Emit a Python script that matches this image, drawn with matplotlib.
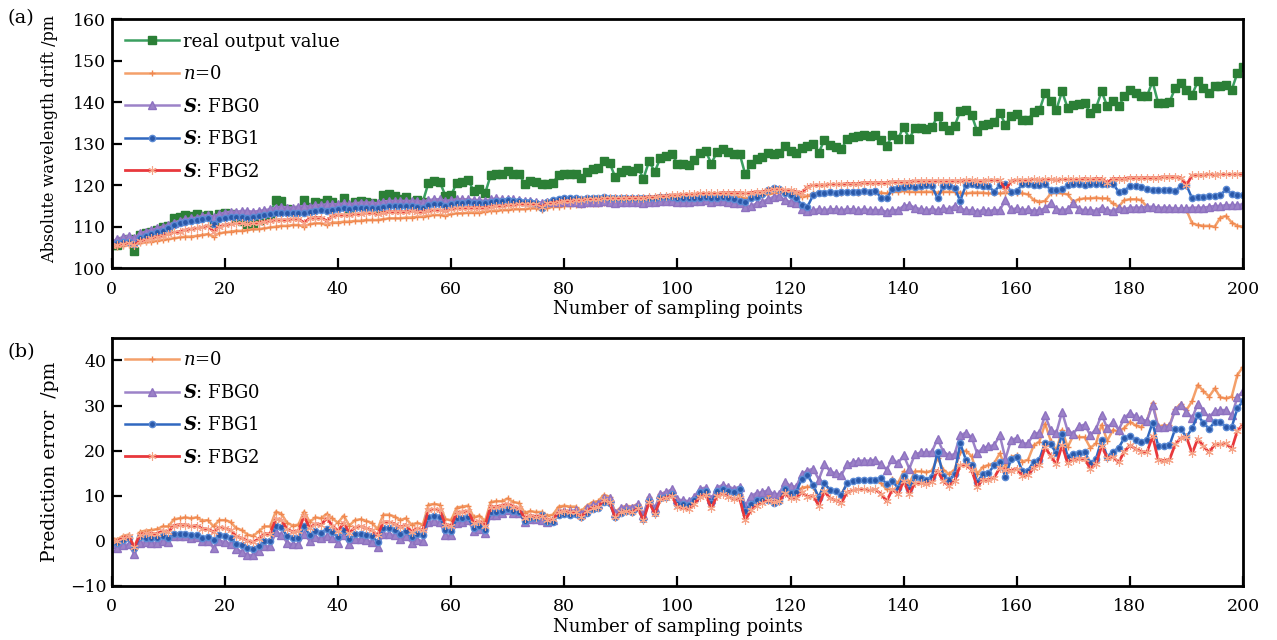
import matplotlib
matplotlib.use("Agg")
import matplotlib.pyplot as plt
import numpy as np

plt.rcParams["font.family"] = ["DejaVu Serif"]
plt.rcParams["mathtext.fontset"] = "dejavuserif"

# sampling points 0..200
sample_idx = np.arange(201)

real_output = [
    105.6, 105.5, 106.5, 107.0, 104.2, 108.0, 108.5, 108.8, 109.2, 110.0,
    110.2, 112.0, 112.4, 112.8, 112.6, 113.0, 112.5, 112.8, 110.8, 113.0,
    113.2, 113.0, 111.8, 111.4, 110.6, 110.5, 111.5, 112.8, 113.0, 116.5,
    116.2, 114.2, 113.8, 114.0, 116.5, 114.8, 116.0, 115.8, 116.4, 116.0,
    115.0, 116.8, 114.6, 116.0, 116.2, 116.0, 115.6, 114.2, 117.6, 117.8,
    117.4, 116.6, 117.2, 115.8, 116.4, 116.0, 120.6, 121.0, 120.8, 117.4,
    117.6, 120.6, 120.8, 121.2, 118.6, 119.0, 118.0, 122.4, 122.6, 122.8,
    123.4, 122.8, 122.6, 120.4, 121.0, 120.8, 120.4, 120.2, 120.6, 122.4,
    122.8, 122.6, 122.8, 121.8, 123.2, 124.0, 124.2, 125.8, 125.4, 122.0,
    123.2, 123.6, 123.4, 124.2, 121.6, 125.8, 123.2, 126.6, 127.0, 127.6,
    125.2, 125.0, 124.8, 126.0, 127.8, 128.2, 125.2, 128.0, 128.6, 128.0,
    127.4, 127.6, 122.6, 125.0, 126.2, 126.8, 127.8, 127.6, 127.8, 129.4,
    128.2, 127.8, 129.0, 129.4, 130.0, 127.8, 131.0, 129.6, 129.2, 128.6,
    131.2, 131.6, 131.8, 132.0, 131.8, 132.0, 131.0, 129.4, 132.2, 131.2,
    134.0, 131.2, 133.8, 133.8, 133.6, 134.0, 136.6, 134.2, 133.2, 134.2,
    137.8, 138.0, 137.0, 133.0, 134.6, 134.8, 135.2, 137.4, 134.6, 136.6,
    137.2, 135.6, 135.8, 137.6, 138.0, 142.2, 140.2, 138.2, 142.6, 138.6,
    139.4, 139.6, 139.8, 137.4, 138.6, 142.6, 139.0, 140.2, 139.0, 141.4,
    143.0, 142.2, 141.6, 141.4, 145.0, 139.8, 139.8, 140.0, 143.4, 144.6,
    143.0, 141.8, 145.0, 143.4, 142.2, 143.8, 144.0, 144.2, 143.0, 147.0,
    148.6,
]

pred_n0 = [
    105.0, 105.2, 105.4, 105.6, 105.6, 106.0, 106.2, 106.4, 106.6, 106.8,
    107.0, 107.2, 107.4, 107.6, 107.6, 107.8, 108.0, 108.2, 107.6, 108.4,
    108.6, 108.8, 109.0, 109.0, 109.2, 109.4, 109.4, 109.6, 109.8, 110.0,
    110.2, 110.2, 110.4, 110.4, 110.0, 110.6, 110.8, 110.8, 110.4, 111.0,
    111.0, 111.2, 111.2, 111.4, 111.4, 111.6, 111.6, 111.6, 111.8, 112.0,
    112.0, 112.0, 112.2, 112.2, 112.4, 112.4, 112.6, 112.8, 112.8, 112.6,
    113.0, 113.2, 113.2, 113.4, 113.4, 113.4, 113.6, 113.8, 113.8, 114.0,
    114.0, 114.2, 114.2, 114.2, 114.4, 114.4, 114.0, 114.6, 114.8, 114.8,
    115.0, 115.0, 115.2, 115.2, 115.4, 115.4, 115.4, 115.6, 115.6, 115.6,
    115.8, 115.8, 115.8, 116.0, 116.0, 116.0, 116.2, 116.2, 116.2, 116.4,
    116.4, 116.4, 116.6, 116.6, 116.8, 116.8, 116.8, 117.0, 117.0, 117.0,
    117.2, 117.2, 116.8, 117.2, 117.4, 117.6, 117.8, 118.0, 118.2, 118.0,
    118.0, 117.8, 117.2, 117.4, 118.0, 118.2, 118.2, 118.4, 118.2, 118.2,
    118.4, 118.4, 118.2, 118.4, 118.4, 118.4, 118.2, 118.0, 118.4, 118.4,
    118.6, 118.4, 118.4, 118.4, 118.4, 118.4, 118.2, 118.4, 118.4, 118.4,
    118.2, 118.0, 118.2, 118.2, 118.2, 118.0, 118.0, 118.0, 118.2, 118.0,
    118.2, 118.0, 117.8, 116.4, 116.0, 116.2, 118.0, 118.2, 118.0, 117.8,
    116.0, 116.6, 116.8, 116.8, 117.0, 116.8, 116.8, 115.6, 114.8, 116.4,
    116.6, 116.6, 116.4, 114.8, 114.4, 114.4, 114.2, 114.4, 114.2, 114.2,
    114.0, 110.8, 110.4, 110.2, 110.2, 110.0, 112.2, 112.6, 111.0, 110.2,
    110.0,
]

pred_fbg0 = [
    106.4, 107.0, 107.4, 107.8, 107.2, 108.4, 108.8, 109.2, 109.6, 110.0,
    110.4, 111.0, 111.4, 111.8, 112.0, 112.2, 112.6, 112.8, 112.4, 113.0,
    113.4, 113.6, 113.6, 113.8, 113.8, 113.6, 113.8, 114.0, 114.2, 114.6,
    114.8, 114.6, 114.6, 114.8, 115.0, 114.8, 115.2, 115.2, 115.4, 115.4,
    115.4, 115.6, 115.4, 115.6, 115.8, 115.8, 115.8, 115.6, 116.0, 116.2,
    116.2, 116.2, 116.2, 116.2, 116.2, 116.0, 116.4, 116.6, 116.6, 116.2,
    116.4, 116.6, 116.6, 116.6, 116.4, 116.4, 116.2, 116.6, 116.8, 116.6,
    116.6, 116.6, 116.4, 116.2, 116.2, 116.0, 115.8, 116.0, 116.0, 116.0,
    116.2, 116.0, 116.0, 115.8, 116.0, 116.0, 116.0, 116.2, 116.0, 115.8,
    116.0, 116.0, 116.0, 116.0, 115.8, 116.0, 116.0, 116.2, 116.2, 116.2,
    116.0, 116.0, 116.0, 116.2, 116.2, 116.4, 116.0, 116.2, 116.2, 116.0,
    115.8, 115.6, 114.8, 115.0, 115.6, 116.0, 116.6, 117.2, 117.4, 116.4,
    116.0, 115.8, 114.2, 113.8, 114.0, 114.2, 114.0, 114.2, 114.2, 114.0,
    114.2, 114.2, 114.0, 114.2, 114.0, 114.0, 114.0, 113.6, 114.0, 114.0,
    115.0, 115.2, 114.6, 114.2, 114.0, 114.2, 114.0, 114.4, 114.2, 115.0,
    114.4, 114.0, 114.0, 113.6, 114.0, 113.8, 114.0, 114.0, 116.4, 114.2,
    114.4, 114.0, 114.2, 113.8, 114.0, 114.4, 115.6, 114.2, 114.0, 114.2,
    115.6, 114.2, 114.0, 114.0, 113.8, 114.6, 114.0, 113.8, 114.4, 114.2,
    114.6, 114.6, 114.6, 114.8, 114.8, 114.6, 114.6, 114.6, 114.4, 114.4,
    114.4, 114.6, 114.6, 114.6, 114.8, 115.0, 115.0, 115.2, 115.2, 115.2,
    115.4,
]

pred_fbg1 = [
    105.8, 106.0, 106.2, 106.4, 105.8, 107.2, 107.8, 108.2, 108.6, 109.0,
    109.6, 110.4, 110.8, 111.2, 111.4, 111.6, 111.8, 112.0, 110.6, 111.8,
    112.2, 112.4, 112.4, 112.4, 112.2, 112.4, 112.6, 112.8, 113.0, 113.2,
    113.2, 113.2, 113.2, 113.4, 113.2, 113.6, 113.8, 114.0, 113.8, 114.0,
    114.2, 114.4, 114.2, 114.4, 114.6, 114.6, 114.6, 114.4, 114.8, 115.0,
    115.0, 115.0, 115.0, 115.0, 114.8, 114.6, 115.2, 115.4, 115.4, 115.0,
    115.4, 115.6, 115.8, 116.0, 115.8, 115.8, 115.6, 116.0, 116.2, 116.2,
    116.4, 116.2, 116.2, 116.0, 116.0, 115.8, 114.6, 116.0, 116.4, 116.6,
    116.8, 116.8, 116.8, 116.6, 117.0, 117.0, 117.0, 117.2, 117.0, 116.8,
    117.0, 117.0, 117.0, 117.0, 116.8, 117.0, 117.0, 117.2, 117.2, 117.2,
    117.0, 116.8, 116.8, 117.0, 117.0, 117.2, 116.8, 117.0, 117.2, 117.0,
    116.6, 116.2, 116.0, 116.8, 117.2, 117.8, 118.8, 119.2, 119.0, 118.0,
    117.6, 117.0, 115.2, 114.8, 117.6, 118.2, 118.2, 118.4, 118.2, 118.4,
    118.4, 118.4, 118.4, 118.6, 118.4, 118.6, 117.0, 116.8, 119.0, 119.4,
    119.6, 119.8, 119.6, 119.8, 120.0, 119.8, 116.8, 119.8, 119.8, 119.4,
    116.2, 120.0, 120.2, 120.0, 119.8, 119.8, 118.4, 120.0, 120.4, 118.4,
    118.6, 120.2, 120.2, 120.0, 120.0, 120.4, 118.8, 118.8, 119.0, 120.0,
    120.2, 120.2, 120.0, 120.2, 120.4, 120.2, 120.4, 120.4, 118.4, 118.6,
    119.8, 119.8, 119.6, 119.0, 118.8, 118.8, 118.8, 118.8, 118.6, 119.8,
    120.0, 116.8, 117.2, 117.2, 117.4, 117.4, 117.6, 119.0, 117.8, 117.6,
    117.6,
]

pred_fbg2 = [
    105.4, 105.6, 105.8, 106.0, 105.6, 106.6, 106.8, 107.2, 107.6, 107.8,
    108.2, 108.6, 108.8, 109.2, 109.4, 109.6, 109.8, 110.2, 108.8, 110.0,
    110.4, 110.6, 110.8, 110.8, 110.6, 110.8, 111.0, 111.2, 111.4, 111.6,
    111.6, 111.6, 111.8, 111.8, 111.0, 112.0, 112.2, 112.2, 111.4, 112.6,
    112.8, 112.8, 112.8, 113.0, 113.0, 113.2, 113.2, 113.0, 113.4, 113.6,
    113.6, 113.6, 113.6, 113.8, 113.6, 113.6, 113.8, 114.0, 114.0, 113.8,
    114.2, 114.4, 114.4, 114.6, 114.6, 114.6, 114.6, 114.8, 115.0, 115.0,
    115.2, 115.2, 115.4, 115.4, 115.4, 115.4, 114.8, 115.6, 115.8, 116.0,
    116.2, 116.2, 116.4, 116.4, 116.6, 116.6, 116.6, 116.8, 116.8, 116.8,
    116.8, 117.0, 117.0, 117.0, 117.0, 117.2, 117.2, 117.4, 117.4, 117.6,
    117.6, 117.8, 117.8, 117.8, 118.0, 118.0, 118.0, 118.0, 118.2, 118.2,
    118.2, 118.2, 118.0, 118.2, 118.4, 118.4, 118.8, 119.0, 119.0, 118.8,
    118.8, 118.4, 118.2, 119.6, 120.0, 120.0, 120.0, 120.2, 120.2, 120.2,
    120.4, 120.4, 120.4, 120.6, 120.6, 120.6, 120.6, 120.6, 120.8, 120.8,
    120.8, 120.8, 121.0, 121.0, 121.0, 121.0, 121.0, 121.0, 121.0, 121.0,
    121.0, 121.2, 121.2, 121.0, 121.0, 121.2, 121.2, 121.2, 118.8, 121.0,
    121.2, 121.2, 121.2, 121.4, 121.2, 121.4, 121.4, 121.2, 121.4, 121.4,
    121.4, 121.4, 121.6, 121.4, 121.6, 121.6, 120.6, 121.6, 121.6, 121.6,
    121.8, 121.8, 121.8, 121.8, 121.8, 121.8, 122.0, 122.0, 122.0, 121.8,
    120.0, 122.4, 122.4, 122.4, 122.6, 122.4, 122.6, 122.6, 122.6, 122.6,
    122.8,
]

real_arr = np.array(real_output)
err_n0 = real_arr - np.array(pred_n0)
err_fbg0 = real_arr - np.array(pred_fbg0)
err_fbg1 = real_arr - np.array(pred_fbg1)
err_fbg2 = real_arr - np.array(pred_fbg2)

lbl_real = "real output value"
lbl_n0 = r"$n$=0"
lbl_fbg0 = r"$\mathbfit{S}$: FBG0"
lbl_fbg1 = r"$\mathbfit{S}$: FBG1"
lbl_fbg2 = r"$\mathbfit{S}$: FBG2"

style_n0 = dict(color="#f4a06a", marker="+", ms=5, mew=1.0, lw=1.8, mec="#f08850")
style_fbg0 = dict(color="#9c82c8", marker="^", ms=6, lw=1.8, mec="#8e72c0")
style_fbg1 = dict(color="#3068c0", marker="o", ms=4.5, lw=1.8, mfc="#2a58a8", mec="#5b8ad4")
style_fbg2 = dict(color="#e8383c", marker=(6, 2, 0), ms=6, mew=0.8, lw=2.0, mec="#f6a488")
style_real = dict(color="#3a9f60", marker="s", ms=5.5, lw=1.8, mfc="#2b7f36", mec="#2b7f36")

fs = 13

fig = plt.figure(figsize=(12.77, 6.4), dpi=100)
ax1 = fig.add_axes([0.0875, 0.581, 0.8859, 0.389])
ax2 = fig.add_axes([0.0875, 0.0844, 0.8859, 0.3876])

ax1.plot(sample_idx, real_output, label=lbl_real, **style_real)
ax1.plot(sample_idx, pred_n0, label=lbl_n0, **style_n0)
ax1.plot(sample_idx, pred_fbg0, label=lbl_fbg0, **style_fbg0)
ax1.plot(sample_idx, pred_fbg1, label=lbl_fbg1, **style_fbg1)
ax1.plot(sample_idx, pred_fbg2, label=lbl_fbg2, **style_fbg2)

ax2.plot(sample_idx, err_n0, label=lbl_n0, **style_n0)
ax2.plot(sample_idx, err_fbg0, label=lbl_fbg0, **style_fbg0)
ax2.plot(sample_idx, err_fbg1, label=lbl_fbg1, **style_fbg1)
ax2.plot(sample_idx, err_fbg2, label=lbl_fbg2, **style_fbg2)

ax1.set_xlim(0, 200)
ax1.set_ylim(100, 160)
ax1.set_yticks(np.arange(100, 161, 10))
ax2.set_xlim(0, 200)
ax2.set_ylim(-10, 45)
ax2.set_yticks(np.arange(-10, 41, 10))

for ax in (ax1, ax2):
    ax.set_xticks(np.arange(0, 201, 20))
    ax.tick_params(direction="in", length=7, width=1.6, labelsize=12.5)
    ax.tick_params(axis="x", pad=9)
    ax.tick_params(axis="y", pad=4)
    for sp in ax.spines.values():
        sp.set_linewidth(2.0)
    ax.set_xlabel("Number of sampling points", fontsize=fs, labelpad=2)
    ax.legend(loc="upper left", frameon=False, fontsize=fs, handlelength=3.0,
              handletextpad=0.2, labelspacing=0.8, borderaxespad=0.35)

ax1.set_ylabel("Absolute wavelength drift /pm", fontsize=11.6)
ax2.set_ylabel("Prediction error  /pm", fontsize=13.5)
ax1.yaxis.set_label_coords(-0.047, 0.52)
ax2.yaxis.set_label_coords(-0.047, 0.5)

fig.text(0.006, 0.972, "(a)", fontsize=14, va="center")
fig.text(0.006, 0.45, "(b)", fontsize=14, va="center")

fig.savefig("out.png", dpi=100)
